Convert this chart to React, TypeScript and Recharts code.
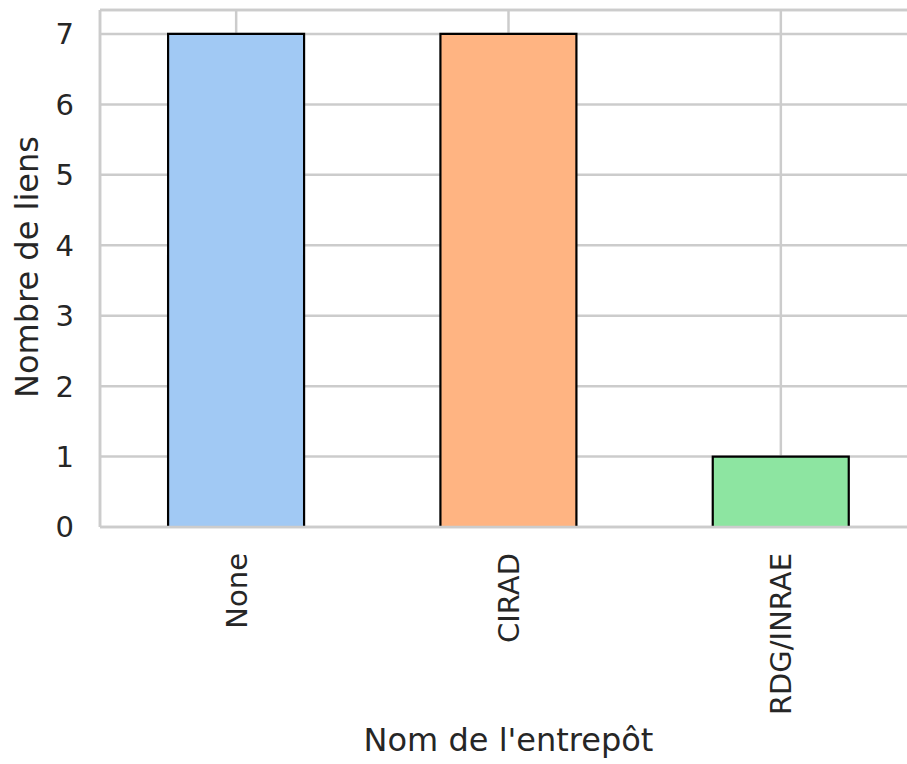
import React from 'react';
import { BarChart, Bar, XAxis, YAxis, CartesianGrid, Cell, ReferenceLine } from 'recharts';

const categories = ['None', 'CIRAD', 'RDG/INRAE'];
const counts = [7, 7, 1];
const barColors = ['#a1c9f4', '#ffb482', '#8de5a1'];
const yTicks = [0, 1, 2, 3, 4, 5, 6, 7];
const yMax = 7.34;
const xLabel = "Nom de l'entrepôt";
const yLabel = 'Nombre de liens';

const data = categories.map((c, i) => ({ name: c, value: counts[i] }));

const FONT = '"DejaVu Sans", sans-serif';
const TEXT = '#262626';
const GRID = '#cccccc';

const XTick = (props: any) => {
  const { x, y, payload } = props;
  return (
    <text
      x={x}
      y={y}
      transform={`rotate(-90, ${x}, ${y})`}
      textAnchor="end"
      dy="0.36em"
      fontSize={29}
      fontFamily={FONT}
      fill={TEXT}
    >
      {payload.value}
    </text>
  );
};

const YTick = (props: any) => {
  const { x, y, payload } = props;
  return (
    <text x={x} y={y} textAnchor="end" dy="0.36em" fontSize={29} fontFamily={FONT} fill={TEXT}>
      {payload.value}
    </text>
  );
};

export default function App() {
  return (
    <div style={{ position: 'absolute', left: 0, top: 0, width: 907, height: 764, overflow: 'hidden', background: '#fff' }}>
      <BarChart
        width={930}
        height={764}
        data={data}
        margin={{ top: 10, right: 13, bottom: 0, left: 0 }}
        barCategoryGap="25%"
      >
        <CartesianGrid stroke={GRID} strokeWidth={2.5} />
        <XAxis
          dataKey="name"
          height={237}
          tickLine={false}
          tickSize={0}
          tickMargin={26}
          axisLine={{ stroke: GRID, strokeWidth: 2.5 }}
          tick={<XTick />}
          interval={0}
          label={{
            content: () => (
              <text x={508.5} y={751} textAnchor="middle" fontSize={32} fontFamily={FONT} fill={TEXT}>
                {xLabel}
              </text>
            ),
          }}
        />
        <YAxis
          width={100}
          domain={[0, yMax]}
          ticks={yTicks}
          allowDataOverflow
          tickLine={false}
          tickSize={0}
          tickMargin={26}
          axisLine={{ stroke: GRID, strokeWidth: 2.5 }}
          tick={<YTick />}
          label={{
            content: () => (
              <text
                x={38}
                y={267}
                transform="rotate(-90, 38, 267)"
                textAnchor="middle"
                fontSize={32}
                fontFamily={FONT}
                fill={TEXT}
              >
                {yLabel}
              </text>
            ),
          }}
        />
        <ReferenceLine y={yMax} stroke={GRID} strokeWidth={2.5} />
        <Bar dataKey="value" isAnimationActive={false} stroke="#000" strokeWidth={2.2}>
          {data.map((d, i) => (
            <Cell key={d.name} fill={barColors[i]} />
          ))}
        </Bar>
      </BarChart>
    </div>
  );
}
